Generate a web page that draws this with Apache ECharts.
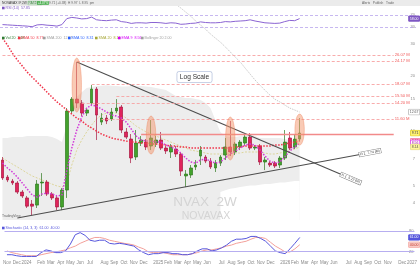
<!DOCTYPE html>
<html><head><meta charset="utf-8">
<script src="https://cdn.jsdelivr.net/npm/echarts@6/dist/echarts.min.js"></script>
<style>html,body{margin:0;padding:0;background:#fff}#c{width:420px;height:265px}</style>
</head><body><div id="c"></div>
<script>
// ---------- data ----------
const firstDate = '2023-11-06';   // 2-week bars
const barCount = 84;              // time scale incl. empty future bars
const monthNames = ['Jan','Feb','Mar','Apr','May','Jun','Jul','Aug','Sep','Oct','Nov','Dec'];

// [open, close, low, high]
const candles = [
 [6.90,5.50,5.36,7.17],[5.56,5.36,5.22,5.71],[5.29,5.16,5.03,5.43],[5.16,4.60,4.49,5.29],[4.60,4.38,4.27,4.72],
 [4.27,3.85,3.76,4.38],[3.95,3.85,3.44,4.16],[3.90,5.09,3.76,5.36],[5.16,5.22,4.38,5.85],[5.22,4.49,4.38,5.36],
 [4.49,4.27,4.16,4.60],[4.27,3.81,3.66,4.38],[3.81,4.72,3.66,4.84],[4.72,12.84,4.27,13.33],[12.84,14.93,12.51,15.32],
 [14.93,14.20,13.33,23.86],[14.20,12.51,12.05,14.75],[12.51,13.00,12.05,13.33],[14.20,16.95,13.85,17.83],[16.95,12.20,8.89,17.39],
 [11.16,11.74,10.75,12.51],[11.74,11.31,10.88,12.20],[11.60,12.67,11.31,13.33],[12.84,13.33,12.51,14.93],[13.50,10.09,9.71,13.85],
 [9.84,9.23,9.00,10.35],[9.00,7.08,6.64,9.59],[7.17,8.56,6.90,10.09],[8.56,8.89,8.24,9.35],[8.66,8.14,7.83,9.00],
 [8.24,9.12,7.83,11.45],[8.56,8.89,8.14,9.35],[8.89,8.03,7.83,9.84],[8.03,7.74,7.45,8.24],[7.64,8.14,7.08,8.45],
 [7.93,7.45,7.17,8.24],[7.45,6.00,5.64,7.64],[5.64,5.78,4.90,6.08],[5.71,6.24,5.50,6.48],[6.32,6.48,6.08,6.90],
 [7.26,7.83,6.48,8.24],[7.17,6.81,6.64,7.35],[6.81,6.32,6.16,7.08],[6.24,6.64,5.93,6.90],[6.64,7.17,6.40,7.35],
 [7.35,8.14,6.90,9.12],[8.14,7.64,7.26,11.31],[7.64,8.45,7.35,8.66],[8.14,8.66,7.83,8.89],[8.56,9.23,8.24,9.47],
 [9.23,8.03,7.83,9.71],[8.03,8.14,7.83,8.34],[8.24,6.73,6.48,8.45],[6.73,6.90,6.08,7.17],[6.64,6.48,6.32,6.81],
 [6.64,6.40,6.24,6.81],[6.48,7.08,6.24,7.26],[7.08,8.66,6.90,10.09],[9.12,8.03,7.83,9.84],[8.14,9.00,7.93,9.47],
 [9.00,9.71,8.77,11.74]
];
const emaFast = [6.64,6.24,5.93,5.56,5.16,4.78,4.43,4.32,4.49,4.54,
 4.49,4.38,4.43,6.08,8.03,10.09,11.89,13.33,13.85,13.67,
 13.16,12.67,12.2,12.05,11.74,11.16,10.22,9.35,8.89,8.77,
 8.77,8.66,8.66,8.34,8.14,7.93,7.54,7.08,6.73,6.64,
 6.90,6.99,6.81,6.64,6.73,7.08,7.45,7.74,8.03,8.34,
 8.45,8.34,7.83,7.26,6.81,6.64,6.73,7.17,7.74,8.14,8.56];
const maRed = [32.3,29.6,26.7,24.5,22.7,21.0,19.7,18.5,17.4,16.3,
 15.3,14.4,13.7,13.0,12.35,11.74,11.31,10.75,10.35,9.96,
 9.59,9.35,9.12,9.0,8.89,8.77,8.66,8.66,8.56,8.56,
 8.45,8.45,8.34,8.34,8.24,8.24,8.14,8.14,8.03,8.03,
 8.03,8.03,8.03,8.03,8.03,8.03,8.03,8.14,8.14,8.24,
 8.24,8.24,8.24,8.24,8.24,8.34,8.34,8.45,8.56,8.66,8.77];
const maYellow = [7.08,6.81,6.56,6.32,6.08,5.85,5.64,5.50,5.36,5.22,
 5.09,4.97,4.90,5.16,6.48,7.83,8.89,9.84,10.75,11.6,
 12.2,12.51,12.67,12.51,12.2,11.74,11.16,10.61,10.22,9.84,
 9.59,9.35,9.12,8.89,8.66,8.45,8.24,8.03,7.83,7.74,
 7.64,7.54,7.45,7.45,7.45,7.45,7.54,7.54,7.54,7.64,
 7.64,7.64,7.64,7.54,7.45,7.45,7.54,7.64,7.83,7.93,8.14];
const maGrayStart = 35;
const maGray = [49.7,47.3,44.9,42.7,40.1,38.1,36.2,34.0,32.3,30.7,28.9,27.1,25.4,23.9,22.1,20.5,19.0,17.8,16.7,15.7,14.9,14.4,13.85,13.33,13.0,12.67];
const cloudUpper = [9.12,9.12,9.23,9.23,9.23,9.35,9.35,9.35,9.35,9.35,
 9.23,9.0,8.66,10.75,13.33,15.32,16.3,17.18,17.39,17.61,
 17.7,17.8,17.7,17.61,17.5,17.5,17.61,17.7,17.61,17.5,
 17.39,17.18,16.95,16.74,16.12,15.5,15.32,15.12,15.12,14.93,
 14.75,14.2,13.33,11.45,9.84,9.35,9.23,9.23,9.35,9.47,
 9.47,9.35,9.12,9.12,9.12,9.12,9.12,9.0,8.89,8.89,8.89];
const cloudLowerStart = 44;
const cloudLower = [4.6,4.7,4.8,4.85,4.9,4.95,5.0,5.0,5.05,5.1,5.1,5.15,5.2,5.2,5.25,5.3,5.3];
const rsi = [38,37,36,35,34,33,31,37,38,36,35,33,38,58,62,60,57,58,63,54,
 52,51,53,54,48,46,42,44,44,43,45,45,44,42,44,43,39,40,42,43,
 47,45,44,44,45,48,47,49,50,51,54,50,47,44,43,42,43,48,52,51,58];
const stochK = [11,11,8,6,6,6,6,17,25,22,17,17,22,42,69,75,67,53,50,53,
 53,44,42,44,42,39,36,25,17,11,14,14,17,17,14,14,11,11,14,22,
 28,28,22,25,31,39,50,56,56,58,64,64,58,50,36,22,17,14,28,44,61];
const stochD = [22,17,14,11,8,8,8,11,14,17,19,22,25,31,36,44,50,56,61,61,
 58,53,50,47,44,42,39,33,28,19,17,17,17,14,11,11,11,11,14,17,
 22,25,25,28,31,36,39,44,47,50,56,61,61,58,47,36,28,19,19,28,40];
// horizontal alert levels and the bar where each starts
const alertLevels = [26.07,24.17,18.07,15.50,14.20,11.60];
const alertStarts = [0,15,18,23,16,20];
const keyLevel = 9.59, keyLevelStart = 28;
// trend lines [barIndex, price]
const trendUp = [[3,3.31],[76,7.74]];
const trendDown = [[15,23.86],[72,5.22]];
const highlightBars = [15,30,46,60];
const priceTicks = [4,5,7,10,15,20,30];

// ---------- build ----------
const dates = [];
{ let t = Date.parse(firstDate + 'T00:00:00Z'); for (let i = 0; i < barCount; i++) { dates.push(new Date(t).toISOString().slice(0,10)); t += 14*864e5; } }
const FONT = 'Liberation Sans';
const onDates = arr => arr.map((v,i)=>[dates[i], v]);
const grayData = maGray.map((v,i)=>[dates[maGrayStart+i], v]);
const cutData = cloudLower.map((v,i)=>[dates[cloudLowerStart+i], v]);

const chart = echarts.init(document.getElementById('c'));
const hidden = {show:false};
const xAx = g => ({type:'category', gridIndex:g, data:dates, boundaryGap:true,
  axisLine:hidden, axisTick:hidden, splitLine:hidden,
  axisLabel: g===2 ? {
    interval:(idx,val)=>+val.slice(8,10) <= 14,
    formatter: v => { const m = +v.slice(5,7)-1; return m===0 ? v.slice(0,4) : monthNames[m]; },
    fontSize:4.5, color:'#8a8a8a', margin:1.5, fontFamily:FONT } : hidden});
const yLab = (vals) => ({inside:true, customValues:vals, fontSize:4, color:'#8a8a8a', margin:1, fontFamily:FONT});

const alertMarks = alertLevels.map((v,k)=>[
  {coord:[dates[alertStarts[k]], v]},
  {coord:[dates[79], v], label:{show:true, position:'end', distance:1, formatter: v.toFixed(2)+' M', fontSize:4.2, color:'#f05a5a', fontFamily:FONT}}
]);
alertMarks.push([
  {coord:[dates[keyLevelStart], keyLevel], lineStyle:{type:'solid', color:'#f28a8a', width:1.4}},
  {coord:[dates[79], keyLevel]}
]);

const option = {
  animation:false,
  grid:[
    {left:0,right:4,top:6,height:30},
    {left:0,right:4,top:30,height:190},
    {left:0,right:4,top:224,height:36}
  ],
  xAxis:[xAx(0),xAx(1),xAx(2)],
  yAxis:[
    {type:'value',gridIndex:0,min:0,max:100,position:'right',axisLabel:yLab([30,70]),axisLine:hidden,axisTick:hidden,splitLine:hidden},
    {type:'log',logBase:10,gridIndex:1,min:3.23,max:35.8,position:'right',axisLabel:yLab(priceTicks),axisLine:hidden,axisTick:hidden,splitLine:hidden},
    {type:'value',gridIndex:2,min:0,max:100,position:'right',axisLabel:yLab([20,80]),axisLine:hidden,axisTick:hidden,splitLine:hidden}
  ],
  series:[
    {type:'line',xAxisIndex:1,yAxisIndex:1,data:onDates(cloudUpper),showSymbol:false,silent:true,z:1,
      lineStyle:{width:0},areaStyle:{color:'#ededed',opacity:1,origin:'start'}},
    {type:'line',xAxisIndex:1,yAxisIndex:1,data:cutData,showSymbol:false,silent:true,z:1,
      lineStyle:{width:0},areaStyle:{color:'#ffffff',opacity:1,origin:'start'}},
    {type:'candlestick',xAxisIndex:1,yAxisIndex:1,data:candles,barWidth:'64%',z:3,
      itemStyle:{color:'#43a22c',color0:'#e0245c',borderColor:'#2f7a1f',borderColor0:'#a8173f',borderWidth:0.7},
      markLine:{symbol:['none','none'],silent:true,animation:false,
        lineStyle:{type:[3,2],color:'#f7a3a3',width:0.9},label:{show:false},data:alertMarks}},
    {type:'line',xAxisIndex:1,yAxisIndex:1,data:onDates(maYellow),showSymbol:false,silent:true,z:2,
      lineStyle:{color:'#d8cf86',width:0.8,type:[2,1.5]}},
    {type:'line',xAxisIndex:1,yAxisIndex:1,data:onDates(maRed),showSymbol:false,silent:true,z:4,
      lineStyle:{color:'#f0344a',width:1.5,type:'dotted'}},
    {type:'line',xAxisIndex:1,yAxisIndex:1,data:onDates(emaFast),showSymbol:false,silent:true,z:4,
      lineStyle:{color:'#d23ad8',width:1.5,type:'dotted'}},
    {type:'line',xAxisIndex:1,yAxisIndex:1,data:grayData,showSymbol:false,silent:true,z:2,clip:false,
      lineStyle:{color:'#b3b3b3',width:0.7,type:[1.5,1]}},
    {type:'line',xAxisIndex:1,yAxisIndex:1,data:trendUp.map(p=>[dates[p[0]],p[1]]),showSymbol:false,silent:true,z:4,
      lineStyle:{color:'#4d4d4d',width:1.1}},
    {type:'line',xAxisIndex:1,yAxisIndex:1,data:trendDown.map(p=>[dates[p[0]],p[1]]),showSymbol:false,silent:true,z:4,
      lineStyle:{color:'#4d4d4d',width:1.1}},
    {type:'line',xAxisIndex:0,yAxisIndex:0,data:onDates(rsi),showSymbol:false,silent:true,
      lineStyle:{color:'#8a63d2',width:1},
      markLine:{symbol:['none','none'],silent:true,label:{show:false},lineStyle:{color:'#b9a6ec',type:[3,2],width:0.8},data:[{yAxis:70},{yAxis:30}]}},
    {type:'line',xAxisIndex:2,yAxisIndex:2,data:onDates(stochD),showSymbol:false,silent:true,
      lineStyle:{color:'#f3a09a',width:1},
      markLine:{symbol:['none','none'],silent:true,label:{show:false},lineStyle:{color:'#b7aef0',type:'solid',width:1},data:[{yAxis:80},{yAxis:20}]}},
    {type:'line',xAxisIndex:2,yAxisIndex:2,data:onDates(stochK),showSymbol:false,silent:true,
      lineStyle:{color:'#5656dc',width:1}}
  ]
};
chart.setOption(option);

// ---------- annotations ----------
const P = (g,i,v) => chart.convertToPixel({gridIndex:g},[dates[i], v]);
const gfx = [];
const txt = (x,y,text,fill,size,extra) => gfx.push({type:'text',z:60,silent:true,
  style:Object.assign({text:text,x:x,y:y,fill:fill,fontSize:size||3.6,fontFamily:FONT,align:'left',verticalAlign:'middle'},extra||{})});
// header bar
gfx.push({type:'rect',z:59,silent:true,shape:{x:0,y:0,width:420,height:6},style:{fill:'#ebebeb'}});
txt(2,3,'NOVAVAX INC','#333',3.4);
txt(21,3,'2W','#555',3.2,{backgroundColor:'#dcdcdc',padding:[0.5,1]});
txt(28,3,'NASDAQ','#2e7d32',3.0,{borderColor:'#66bb6a',borderWidth:0.4,padding:[0.3,0.6]});
txt(37,3,'+4.07%','#fff',3.0,{backgroundColor:'#4caf50',padding:[0.3,0.8]});
txt(49,3,'9.71 (+0.38)  H 9.97  L 8.95  pm','#666',3.2);
txt(362,3,'Alerts   Publish   Trade','#666',3.2);
// pane legends
const legend = (x,y,color,text) => { gfx.push({type:'rect',z:60,silent:true,shape:{x:x,y:y-1.3,width:2.6,height:2.6},style:{fill:color}}); txt(x+3.6,y,text,color,3.6); };
legend(2,8,'#7e57c2','RSI (14)  57.85');
legend(2,38,'#2e7d32','Vol 20  2.18');
legend(18,38,'#f23645','EMA 50  8.77');
legend(43,38,'#9e9e9e','SMA 200  12.67');
legend(68,38,'#2962ff','SMA 50  8.31');
legend(95,38,'#a6a635','SMA 20  8.14');
legend(118,38,'#d500f9','EMA 9  8.56');
legend(141,38,'#9e9e9e','Bollinger 20 2.00');
legend(2,228,'#5656dc','Stochastic (14, 3, 3)  61.00  40.00');
txt(2,216,'TradingView','#666',3.4);
// Log Scale note
txt(194.5,77,'Log Scale','#333',6.6,{align:'center',backgroundColor:'#fff',borderColor:'#b8c4de',borderWidth:0.8,borderRadius:1.5,padding:[1.5,2.5]});
// watermark
gfx.push({type:'text',z:2,silent:true,style:{text:'NVAX  2W',x:205,y:202,fill:'#d4d4d4',fontSize:13.5,fontFamily:FONT,align:'center',verticalAlign:'middle'}});
gfx.push({type:'text',z:2,silent:true,style:{text:'NOVAVAX',x:206,y:216.5,fill:'#d4d4d4',fontSize:10.5,fontFamily:FONT,align:'center',verticalAlign:'middle'}});
// highlight ellipses
highlightBars.forEach(k=>{
  const hi = P(1,k,candles[k][3]), lo = P(1,k,candles[k][2]);
  const top = hi[1]-4, bot = lo[1]+4;
  gfx.push({type:'ellipse',z:40,silent:true,shape:{cx:hi[0],cy:(top+bot)/2,rx:4.7,ry:(bot-top)/2},
    style:{fill:'rgba(243,150,108,0.5)',stroke:'rgba(236,130,90,0.65)',lineWidth:0.6}});
});
// trend line labels
const trendLabel = (seg,text) => {
  const a = P(1,seg[0][0],seg[0][1]), b = P(1,seg[1][0],seg[1][1]);
  const dx = b[0]-a[0], dy = b[1]-a[1], L = Math.hypot(dx,dy);
  const cx = b[0]-dx/L*9, cy = b[1]-dy/L*9;
  gfx.push({type:'text',z:60,silent:true,x:cx,y:cy,rotation:-Math.atan2(dy,dx),
    style:{text:text,x:0,y:0,fill:'#333',fontSize:3.4,fontFamily:FONT,align:'center',verticalAlign:'middle',
      backgroundColor:'#fff',borderColor:'#777',borderWidth:0.5,padding:[0.6,1]}});
};
trendLabel(trendUp,'R 1  7.74 (M)');
trendLabel(trendDown,'R 1  5.22 (M)');
// price-scale value boxes
const vbox = (g,v,text,bg,border,color) => {
  const p = P(g,0,v);
  gfx.push({type:'text',z:61,silent:true,style:{text:text,x:419.5,y:p[1],align:'right',verticalAlign:'middle',fill:color,
    fontSize:3.5,fontFamily:FONT,backgroundColor:bg,borderColor:border,borderWidth:0.5,padding:[0.6,1]}});
};
const last = candles.length-1;
vbox(0,rsi[last],rsi[last].toFixed(2),'#7e57c2','#7e57c2','#fff');
vbox(1,maGray[maGray.length-1],maGray[maGray.length-1].toFixed(2),'#fff','#9e9e9e','#555');
vbox(1,candles[last][1],candles[last][1].toFixed(2),'#fff176','#d4c200','#333');
vbox(1,maRed[last],maRed[last].toFixed(2),'#f8bbd0','#f06292','#c2185b');
vbox(1,emaFast[last],emaFast[last].toFixed(2),'#fff','#d500f9','#a0009c');
vbox(1,maYellow[last],maYellow[last].toFixed(2),'#fff59d','#d8cf86','#555');
vbox(2,stochK[last],stochK[last].toFixed(2),'#5656dc','#5656dc','#fff');
vbox(2,stochD[last],stochD[last].toFixed(2),'#f8c9c5','#f3a09a','#c0392b');

chart.setOption({graphic:{elements:gfx}});
</script>
</body></html>
